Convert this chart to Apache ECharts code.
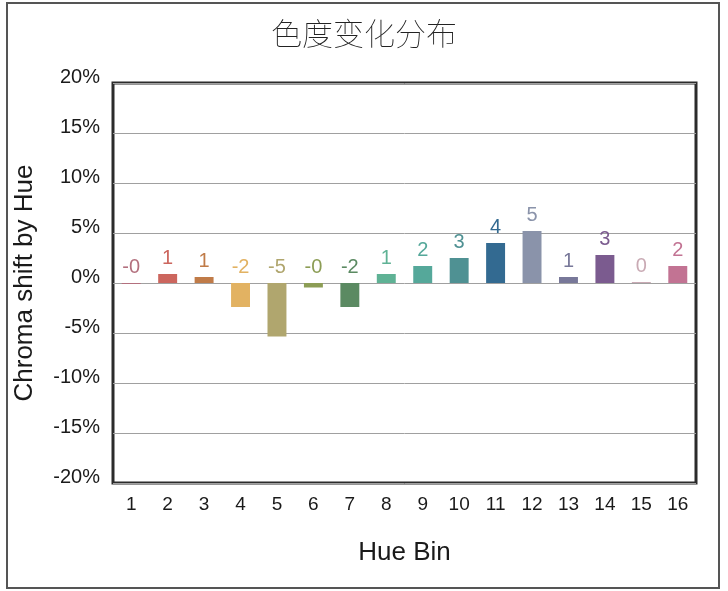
<!DOCTYPE html>
<html>
<head>
<meta charset="utf-8">
<script src="https://cdn.jsdelivr.net/npm/echarts@6/dist/echarts.min.js"></script>
<style>
html,body{margin:0;padding:0;background:#fff;}
#chart{width:728px;height:591px;}
</style>
</head>
<body>
<div id="chart"></div>
<script>
const categories = ['1','2','3','4','5','6','7','8','9','10','11','12','13','14','15','16'];
const chromaShift = [-0.1, 0.9, 0.6, -2.4, -5.35, -0.45, -2.4, 0.9, 1.7, 2.5, 4.0, 5.2, 0.6, 2.8, 0.1, 1.7];
const barColors = ['#b3707e','#cc665e','#c07b48','#e2b262','#b0a66e','#8c9d55','#5b8a62','#5fb295','#55a89a','#4f9193','#336a91','#8a93aa','#787899','#7b5b8f','#c9aab4','#c27393'];
const yTicks = [-20,-15,-10,-5,0,5,10,15,20];

const chart = echarts.init(document.getElementById('chart'));
const fontFam = '"Liberation Sans", Arial, sans-serif';
chart.setOption({
  animation: false,
  backgroundColor: '#ffffff',
  title: {
    text: '色度变化分布',
    left: 'center',
    top: 13,
    textStyle: {fontFamily: '"Noto Sans CJK SC", sans-serif', fontSize: 31, fontWeight: 'lighter', color: '#222'}
  },
  graphic: [{
    type: 'rect',
    shape: {x: 7, y: 3, width: 712, height: 585},
    style: {fill: 'none', stroke: '#555', lineWidth: 2},
    silent: true
  }],
  grid: {left: 113, right: 32, top: 83, bottom: 108, show: true, borderColor: '#2b2b2b', borderWidth: 3, backgroundColor: 'transparent'},
  xAxis: {
    type: 'category',
    data: categories,
    name: 'Hue Bin',
    nameLocation: 'middle',
    nameGap: 57,
    nameTextStyle: {fontFamily: fontFam, fontSize: 26, color: '#1a1a1a'},
    axisLine: {show: false},
    axisTick: {show: false},
    axisLabel: {fontFamily: fontFam, fontSize: 19, color: '#1a1a1a', margin: 12}
  },
  yAxis: {
    type: 'value',
    min: -20, max: 20, interval: 5,
    name: 'Chroma shift by Hue',
    nameLocation: 'middle',
    nameGap: 75,
    nameTextStyle: {fontFamily: fontFam, fontSize: 26, color: '#1a1a1a'},
    axisLine: {show: false},
    axisTick: {show: false},
    splitLine: {lineStyle: {color: '#a0a0a0', width: 1}},
    axisLabel: {fontFamily: fontFam, fontSize: 20, color: '#1a1a1a', margin: 13, verticalAlign: 'bottom', lineHeight: 12,
      formatter: v => yTicks.indexOf(v) >= 0 ? v + '%' : ''}
  },
  series: [{
    type: 'bar',
    barWidth: '52%',
    data: chromaShift.map((v, i) => ({value: v, itemStyle: {color: barColors[i]}, label: {color: barColors[i]}})),
    label: {
      show: true,
      position: 'top',
      distance: 6,
      fontFamily: fontFam,
      fontSize: 20,
      formatter: p => (p.value < 0 ? '-' : '') + Math.abs(Math.round(p.value))
    }
  }]
});
</script>
</body>
</html>
